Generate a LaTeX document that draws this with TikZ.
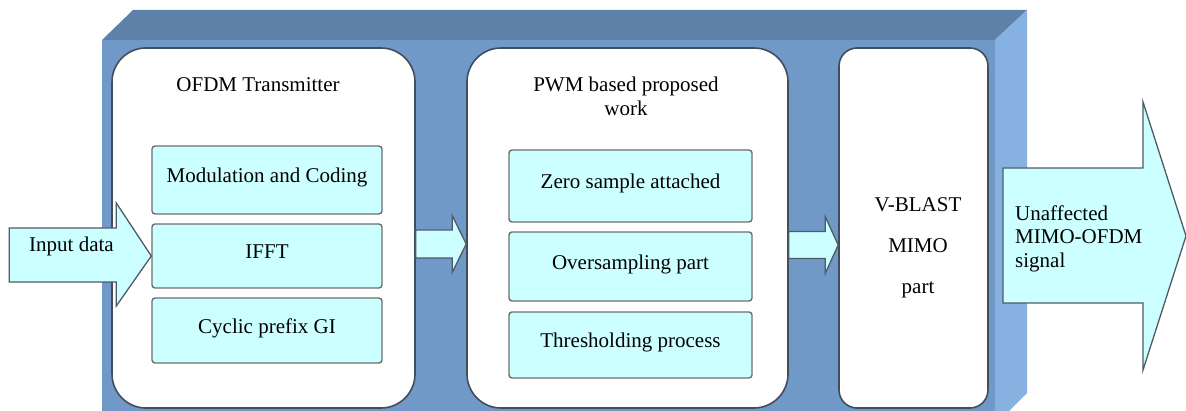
\documentclass[tikz,border=0pt]{standalone}
\usepackage{fontspec}
\setmainfont{Liberation Serif}
\usetikzlibrary{calc}
\definecolor{frontblue}{RGB}{113,153,200}
\definecolor{topblue}{RGB}{94,129,168}
\definecolor{sideblue}{RGB}{134,177,225}
\definecolor{cyanfill}{RGB}{204,255,255}
\definecolor{boxline}{RGB}{64,78,92}
\definecolor{cyanline}{RGB}{110,110,110}
\definecolor{arrowline}{RGB}{80,90,100}
\begin{document}
\begin{tikzpicture}[x=1pt,y=-1pt,
  txt/.style={font=\fontsize{21}{24}\selectfont, inner sep=0pt},
  wbox/.style={draw=boxline, line width=1.6pt, fill=white, rounded corners=34pt, inner sep=0pt},
  cbox/.style={draw=cyanline, line width=1.4pt, fill=cyanfill, rounded corners=3pt, txt, text height=14pt, text depth=8pt},
  barrow/.style={draw=arrowline, line width=1.3pt, fill=cyanfill, line join=miter}]
\useasboundingbox (0,0) rectangle (1186,411);
% 3D background block
\fill[frontblue] (102,40) rectangle (995,411);
\fill[topblue] (102,40) -- (133,10) -- (1027,10) -- (995,40) -- cycle;
\fill[sideblue] (995,40) -- (1027,10) -- (1027,393) -- (1009,411) -- (995,411) -- cycle;
% white stages
\node[wbox, minimum width=303pt, minimum height=360pt] (b1) at (263.5,228) {};
\node[wbox, minimum width=321pt, minimum height=360pt] (b2) at (627.5,228) {};
\node[wbox, rounded corners=18pt, minimum width=149pt, minimum height=360pt] (b3) at (913.5,228) {};
% titles
\node[txt] (t1) at (258,85) {OFDM Transmitter};
\node[txt, align=center] (t2) at (626,96) {PWM based proposed\\work};
\node[inner sep=0pt, align=center, font=\fontsize{21}{41}\selectfont] (v) at (918,248) {V-BLAST\\MIMO\\part};
% cyan blocks
\node[cbox, minimum width=230pt, minimum height=68pt] (m1) at (267,180) {Modulation and Coding};
\node[cbox, minimum width=230pt, minimum height=64pt] (m2) at (267,256) {IFFT};
\node[cbox, minimum width=230pt, minimum height=65pt] (m3) at (267,330.5) {Cyclic prefix GI};
\node[cbox, minimum width=243pt, minimum height=72pt] (p1) at (630.5,186) {Zero sample attached};
\node[cbox, minimum width=243pt, minimum height=69pt] (p2) at (630.5,266.5) {Oversampling part};
\node[cbox, minimum width=243pt, minimum height=66pt] (p3) at (630.5,345) {Thresholding process};
% input arrow
\draw[barrow] ($(m2.west)+(-142,-28)$) -| ($(m2.west)+(-35,-53)$) -- (m2.west) -- ($(m2.west)+(-35,50)$) |- ($(m2.west)+(-142,26)$) -- cycle;
\node[txt, anchor=west] (inp) at (29,246) {Input data};
% arrow b1 -> b2
\path ($(b1.east)+(0,16)$) coordinate (a1) ($(b2.west)+(0,16)$) coordinate (a2);
\draw[barrow] ($(a1)+(0,-14)$) -| ($(a2)+(-14,-28.5)$) -- (a2) -- ($(a2)+(-14,28.5)$) |- ($(a1)+(0,14)$) -- cycle;
% arrow b2 -> b3
\path ($(b2.east)+(0,17)$) coordinate (a3) ($(b3.west)+(0,17)$) coordinate (a4);
\draw[barrow] ($(a3)+(0,-13.5)$) -| ($(a4)+(-13,-28.5)$) -- (a4) -- ($(a4)+(-13,28.5)$) |- ($(a3)+(0,13.5)$) -- cycle;
% output arrow
\coordinate (o0) at (1003,236);
\coordinate (o1) at (1186,236);
\draw[barrow] ($(o0)+(0,-68)$) -| ($(o1)+(-43,-134)$) -- (o1) -- ($(o1)+(-43,134)$) |- ($(o0)+(0,67)$) -- cycle;
\node[anchor=west, align=left, inner sep=0pt, font=\fontsize{21}{23.5}\selectfont] (out) at (1015,238.5) {Unaffected\\MIMO-OFDM\\signal};
\end{tikzpicture}
\end{document}
